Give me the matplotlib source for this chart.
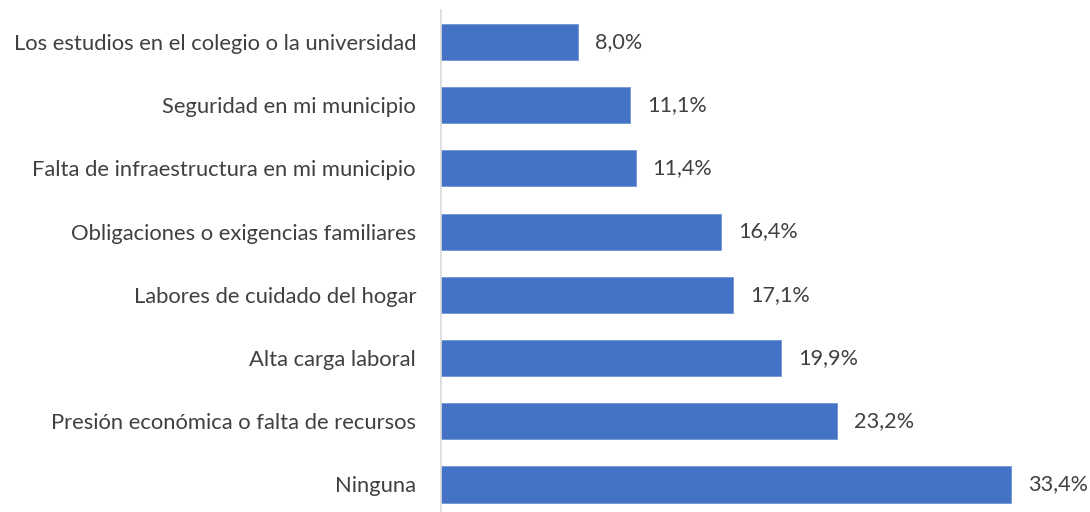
import matplotlib.pyplot as plt

categories = ['Los estudios en el colegio o la universidad', 'Seguridad en mi municipio',
              'Falta de infraestructura en mi municipio', 'Obligaciones o exigencias familiares',
              'Labores de cuidado del hogar', 'Alta carga laboral',
              'Presión económica o falta de recursos', 'Ninguna']
values = [8.0, 11.1, 11.4, 16.4, 17.1, 19.9, 23.2, 33.4]
labels = ['8,0%', '11,1%', '11,4%', '16,4%', '17,1%', '19,9%', '23,2%', '33,4%']

plt.rcParams['font.family'] = ['Lato', 'DejaVu Sans']
txt_color = '#404040'

fig = plt.figure(figsize=(10.9, 5.12), dpi=100)
ax = fig.add_axes([441/1090, -0.008, 614.5/1090, 0.988])

y = list(range(len(categories)))[::-1]
ax.barh(y, values, height=0.57, color='#4472C4', edgecolor='#6f95d6', linewidth=0.6)
for yi, v, lab in zip(y, values, labels):
    ax.text(v + 1.0, yi, lab, va='center', ha='left', fontsize=15.6, color=txt_color)

ax.set_xlim(0, 36)
ax.set_ylim(-0.5, len(categories) - 0.5)
ax.set_yticks(y)
ax.set_yticklabels(categories, fontsize=15.8, color=txt_color)
ax.tick_params(axis='y', length=0, pad=18)
ax.set_xticks([])
for s in ['top', 'right', 'bottom']:
    ax.spines[s].set_visible(False)
ax.spines['left'].set_color('#D9D9D9')
ax.spines['left'].set_linewidth(1.2)

fig.savefig('out.png', dpi=100)
